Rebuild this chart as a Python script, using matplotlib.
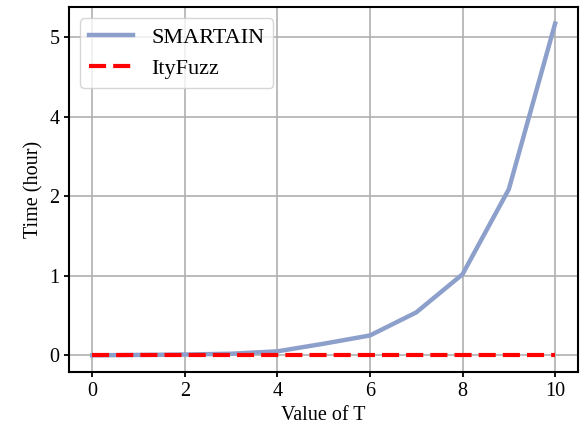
import matplotlib
matplotlib.use("Agg")
import matplotlib.pyplot as plt

plt.rcParams["font.family"] = ["Liberation Serif", "DejaVu Serif"]

# ── Data (y in axis units; ticks labelled 0,1,2,4,5) ──────────────────────────
T_values   = [0, 1, 2, 3, 4, 5, 6, 7, 8, 9, 10]
smartain   = [0.0, 0.005, 0.01, 0.02, 0.05, 0.146, 0.25, 0.54, 1.02, 2.09, 4.175]
ityfuzz    = [0.0] * 11
ytick_pos  = [0, 1, 2, 3, 4]
ytick_lab  = ["0", "1", "2", "4", "5"]

fig = plt.figure(figsize=(5.8, 4.36), dpi=100)
ax = fig.add_axes([0.119, 0.147, 0.878, 0.837])

ax.plot(T_values, smartain, color="#8da0cb", lw=3.2, label="SMARTAIN")
ax.plot(T_values, ityfuzz, color="red", lw=3, ls=(0, (4.1, 1.7)), label="ItyFuzz")

ax.set_yticks(ytick_pos)
ax.set_yticklabels(ytick_lab)
ax.set_xticks([0, 2, 4, 6, 8, 10])
ax.tick_params(labelsize=14.5, width=1.3)
for s in ax.spines.values():
    s.set_linewidth(1.5)
ax.grid(True, color="#b0b0b0", lw=1.2)
ax.set_xlabel("Value of T", fontsize=14.5)
ax.set_ylabel("Time (hour)", fontsize=14.5)
ax.legend(loc="upper left", fontsize=16)

fig.savefig("out.png", dpi=100)
